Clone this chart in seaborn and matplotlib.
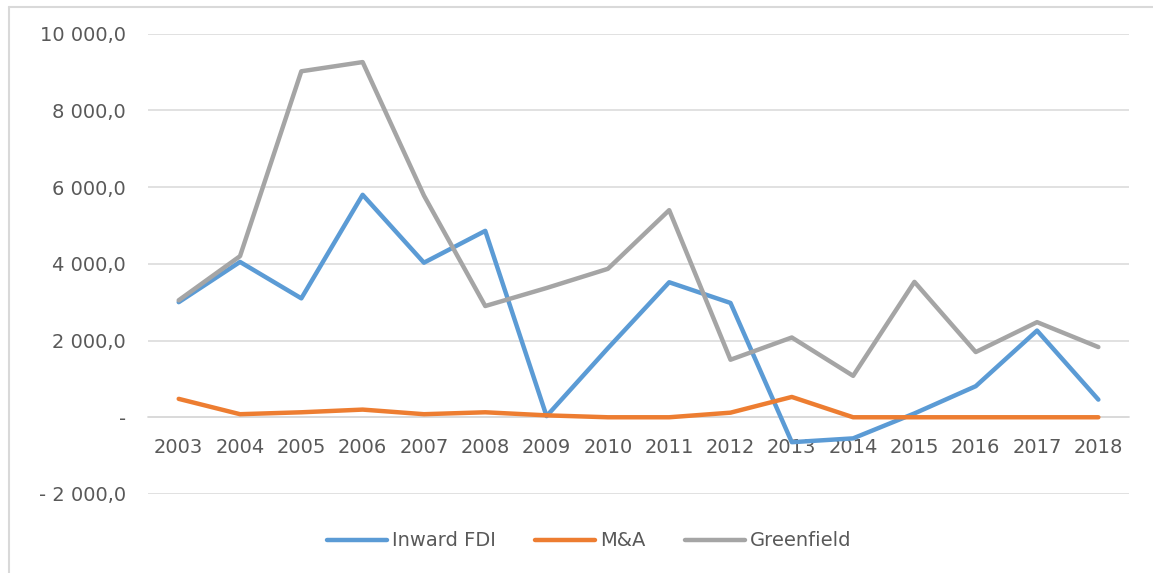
import matplotlib

matplotlib.use("Agg")
import matplotlib.pyplot as plt
import pandas as pd
import seaborn as sns
from matplotlib.lines import Line2D

years = [str(y) for y in range(2003, 2019)]
inward_fdi = [3000, 4050, 3100, 5800, 4030, 4860, 30, 1800, 3520, 2980,
              -650, -550, 100, 810, 2260, 460]
m_and_a = [480, 80, 130, 200, 80, 130, 50, 0, 0, 120, 530, 0, 0, 0, 0, 0]
greenfield = [3050, 4200, 9020, 9260, 5780, 2900, 3370, 3870, 5400, 1500,
              2080, 1080, 3530, 1700, 2480, 1830]

series_names = ["Inward FDI", "M&A", "Greenfield"]
palette = {"Inward FDI": "#5B9BD5", "M&A": "#ED7D31", "Greenfield": "#A5A5A5"}
y_ticks = [-2000, 0, 2000, 4000, 6000, 8000, 10000]

df = pd.concat([
    pd.DataFrame({"year": years, "value": vals, "series": name})
    for name, vals in zip(series_names, [inward_fdi, m_and_a, greenfield])
])


def excel_fmt(v):
    # accounting-style: "10 000,0", "-" for zero, "- 2 000,0"
    if v == 0:
        return "-"
    s = f"{abs(v):,.1f}".replace(",", " ").replace(".", ",")
    return f"- {s}" if v < 0 else s


sns.set_style("white")
plt.rcParams["font.family"] = ["DejaVu Sans"]
text_col = "#595959"
grid_col = "#D9D9D9"

fig = plt.figure(figsize=(11.53, 5.73), dpi=100)
ax = fig.add_axes([0.1284, 0.1379, 0.8508, 0.8033])

sns.lineplot(data=df, x="year", y="value", hue="series", hue_order=series_names,
             palette=palette, linewidth=3.2, ax=ax, sort=False,
             solid_capstyle="round", solid_joinstyle="round")

ax.set_xlim(-0.5, len(years) - 0.5)
ax.set_ylim(-2000, 10000)
ax.set_yticks(y_ticks)
ax.set_yticklabels([excel_fmt(v) for v in y_ticks])
ax.yaxis.grid(True, color=grid_col, linewidth=1.1)
ax.set_axisbelow(True)
ax.set_xlabel("")
ax.set_ylabel("")

for side in ["top", "right", "left"]:
    ax.spines[side].set_visible(False)
ax.spines["bottom"].set_position(("data", 0))
ax.spines["bottom"].set_color(grid_col)
ax.spines["bottom"].set_linewidth(1.1)
ax.spines["bottom"].set_zorder(0.5)

ax.tick_params(axis="x", length=0, pad=15, labelsize=14, labelcolor=text_col)
ax.tick_params(axis="y", length=0, pad=16, labelsize=14, labelcolor=text_col)

handles, labels = ax.get_legend_handles_labels()
ax.legend_.remove()
leg = fig.legend(handles, labels, loc="center", bbox_to_anchor=(0.511, 0.056),
                 ncol=3, frameon=False, fontsize=14, handlelength=3.1,
                 handletextpad=0.25, columnspacing=2.0)
for t in leg.get_texts():
    t.set_color(text_col)
for h in leg.legend_handles:
    h.set_linewidth(3.2)
    h.set_solid_capstyle("round")

# chart-area border (left and top edges visible in the source)
fig.add_artist(Line2D([0.0078, 0.0078], [0.0, 0.988], transform=fig.transFigure,
                      color=grid_col, linewidth=1.5))
fig.add_artist(Line2D([0.0078, 1.0], [0.988, 0.988], transform=fig.transFigure,
                      color=grid_col, linewidth=1.5))

fig.savefig("out.png", dpi=100)
plt.close(fig)
